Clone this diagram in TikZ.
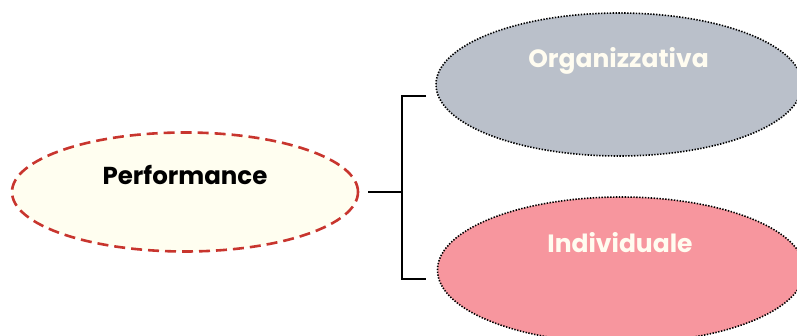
\documentclass[tikz,border=0pt]{standalone}
\usepackage{fontspec}
\setmainfont{Poppins}
\usetikzlibrary{shapes.geometric}
\definecolor{cream}{HTML}{FFFEF0}
\definecolor{dashred}{HTML}{C8352E}
\definecolor{greyfill}{HTML}{BAC0CA}
\definecolor{pinkfill}{HTML}{F7969E}
\definecolor{lighttext}{HTML}{FFFCF0}
\tikzset{
  oval/.style={ellipse, inner sep=0pt},
  mainoval/.style={oval, fill=cream, draw=dashred, line width=2.6pt, dash pattern=on 11pt off 6pt},
  suboval/.style={oval, draw=black, line width=1.6pt, dash pattern=on 1.4pt off 1.5pt},
  maintext/.style={anchor=base, font=\bfseries\fontsize{24.5}{30}\selectfont, text=black, inner sep=0pt},
  subtext/.style={anchor=base, font=\bfseries\fontsize{25}{30}\selectfont, text=lighttext, inner sep=0pt},
  bracket/.style={draw=black, line width=2pt}
}
\begin{document}
\begin{tikzpicture}[x=1pt,y=-1pt]
\useasboundingbox (0,0) rectangle (797,336);
\begin{scope}
\clip (0,0) rectangle (797,336);
\node[mainoval, minimum width=346pt, minimum height=119pt] (perf) at (185,192) {};
\node[suboval, fill=greyfill, minimum width=366pt, minimum height=143pt] (org) at (619,84.5) {};
\node[suboval, fill=pinkfill, minimum width=367pt, minimum height=146pt] (ind) at (621,270) {};
\end{scope}
\node[maintext] (perft) at (185,185) {Performance};
\node[subtext] (orgt) at (618.5,68) {Organizzativa};
\node[subtext] (indt) at (620,253) {Individuale};
\coordinate (stemL) at ([xshift=9pt]perf.east);
\coordinate (stemR) at (402,192);
\coordinate (topC) at (402,96);
\coordinate (botC) at (402,279);
\coordinate (topE) at (426,96);
\coordinate (botE) at (426,279);
\draw[bracket] (stemL) -- (stemR);
\draw[bracket] (topE) -- (topC) -- (botC) -- (botE);
\end{tikzpicture}
\end{document}
